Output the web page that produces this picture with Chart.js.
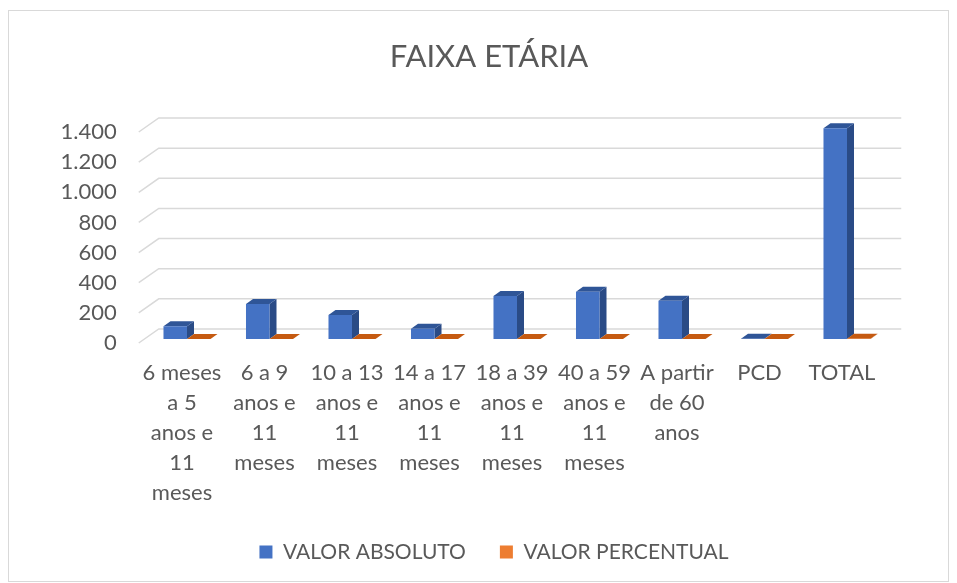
<!DOCTYPE html>
<html>
<head>
<meta charset="utf-8">
<script src="https://cdn.jsdelivr.net/npm/chart.js@4"></script>
<style>
body { margin: 0; background: #fff; }
#wrap { position: relative; width: 957px; height: 583px; }
</style>
</head>
<body>
<div id="wrap"><canvas id="faixaChart" width="957" height="583"></canvas></div>
<script>
var categorias = [
	['6 meses', 'a 5', 'anos e', '11', 'meses'],
	['6 a 9', 'anos e', '11', 'meses'],
	['10 a 13', 'anos e', '11', 'meses'],
	['14 a 17', 'anos e', '11', 'meses'],
	['18 a 39', 'anos e', '11', 'meses'],
	['40 a 59', 'anos e', '11', 'meses'],
	['A partir', 'de 60', 'anos'],
	['PCD'],
	['TOTAL']
];
var valorAbsoluto = [85, 232, 160, 68, 285, 313, 253, 2, 1398];
var valorPercentual = [0.06, 0.17, 0.11, 0.05, 0.20, 0.22, 0.18, 0.00, 1.00];
var yTicks = [0, 200, 400, 600, 800, 1000, 1200, 1400];

var textColor = '#595959';
var fontName = 'Lato, "Open Sans", sans-serif';

// faces of the 3d look: [front, top, side]
var faceColors = [
	['#4472C4', '#2F5597', '#2A4B86'],
	['#ED7D31', '#C55A11', '#A84B0E']
];

var depthX = 7, depthY = 5; // bar depth
var frontDX = -7, frontDY = 4; // floor front edge vs bar plane
var backDX = 13, backDY = -10; // back wall vs bar plane

function milhar(v) {
	return String(v).replace(/\B(?=(\d{3})+(?!\d))/g, '.');
}

var bar3d = {
	id: 'bar3d',
	afterLayout: function(chart) {
		// title and legend are centred on the whole frame, not the plot
		chart.titleBlock.left = 0;
		chart.titleBlock.right = 978;
		chart.legend.left = 0;
		chart.legend.right = 988;
	},
	beforeDatasetsDraw: function(chart) {
		var ctx = chart.ctx,
		area = chart.chartArea,
		yScale = chart.scales.y;

		// grid lines, bent at the left like excel 3d
		ctx.save();
		ctx.strokeStyle = '#D9D9D9';
		ctx.lineWidth = 1.5;
		yScale.ticks.forEach(function(t) {
			var y = yScale.getPixelForValue(t.value);
			ctx.beginPath();
			ctx.moveTo(area.left + frontDX, y + frontDY);
			ctx.lineTo(area.left + backDX, y + backDY);
			ctx.lineTo(area.right + backDX, y + backDY);
			ctx.stroke();
		});

		// top and side faces, fronts are drawn by chart.js afterwards
		for (var j = 0; j < categorias.length; j++) {
			chart.data.datasets.forEach(function(ds, i) {
				var el = chart.getDatasetMeta(i).data[j];
				var p = el.getProps(['x', 'y', 'base', 'width'], true);
				var xl = p.x - p.width / 2, xr = p.x + p.width / 2;
				var yt = Math.min(p.y, p.base), yb = p.base;

				ctx.fillStyle = faceColors[i][2];
				ctx.beginPath();
				ctx.moveTo(xr, yt);
				ctx.lineTo(xr + depthX, yt - depthY);
				ctx.lineTo(xr + depthX, yb - depthY);
				ctx.lineTo(xr, yb);
				ctx.closePath();
				ctx.fill();

				ctx.fillStyle = faceColors[i][1];
				ctx.beginPath();
				ctx.moveTo(xl, yt);
				ctx.lineTo(xr, yt);
				ctx.lineTo(xr + depthX, yt - depthY);
				ctx.lineTo(xl + depthX, yt - depthY);
				ctx.closePath();
				ctx.fill();
			});
		}
		ctx.restore();
	},
	afterDraw: function(chart) {
		var ctx = chart.ctx;
		ctx.save();
		ctx.strokeStyle = '#D9D9D9';
		ctx.lineWidth = 1;
		ctx.strokeRect(8.5, 10.5, 940, 571);
		ctx.restore();
	}
};

var ctx = document.getElementById('faixaChart').getContext('2d');
var chart = new Chart(ctx, {
	type: 'bar',
	data: {
		labels: categorias,
		datasets: [{
			label: 'VALOR ABSOLUTO',
			data: valorAbsoluto,
			backgroundColor: faceColors[0][0],
			borderWidth: 0
		}, {
			label: 'VALOR PERCENTUAL',
			data: valorPercentual,
			backgroundColor: faceColors[1][0],
			borderWidth: 0
		}]
	},
	options: {
		responsive: false,
		animation: false,
		events: [],
		layout: {
			padding: { left: 59.75, right: 68.75, top: 0, bottom: 10.5 }
		},
		datasets: {
			bar: { categoryPercentage: 0.57, barPercentage: 1 }
		},
		scales: {
			x: {
				grid: { display: false, drawTicks: false },
				border: { display: false },
				ticks: {
					color: textColor,
					font: { family: fontName, size: 22, lineHeight: 1.364 },
					padding: 19,
					labelOffset: -5,
					autoSkip: false,
					maxRotation: 0,
					minRotation: 0
				},
				afterFit: function(scale) { scale.height = 168.5; }
			},
			y: {
				min: 0,
				max: 1400,
				grid: { display: false, drawTicks: false },
				border: { display: false },
				ticks: {
					color: textColor,
					font: { family: fontName, size: 22 },
					padding: 29,
					labelOffset: 4,
					callback: function(v) { return milhar(v); }
				},
				afterBuildTicks: function(scale) {
					scale.ticks = yTicks.map(function(v) { return { value: v }; });
				},
				afterFit: function(scale) { scale.width = 86; }
			}
		},
		plugins: {
			title: {
				display: true,
				text: 'FAIXA ETÁRIA',
				color: textColor,
				font: { family: fontName, size: 31, weight: 'normal', lineHeight: 1.2 },
				padding: { top: 38, bottom: 52.8 }
			},
			legend: {
				position: 'bottom',
				labels: {
					color: textColor,
					font: { family: fontName, size: 21 },
					boxWidth: 13,
					boxHeight: 13,
					padding: 34
				}
			},
			tooltip: { enabled: false }
		}
	},
	plugins: [bar3d]
});
</script>
</body>
</html>
